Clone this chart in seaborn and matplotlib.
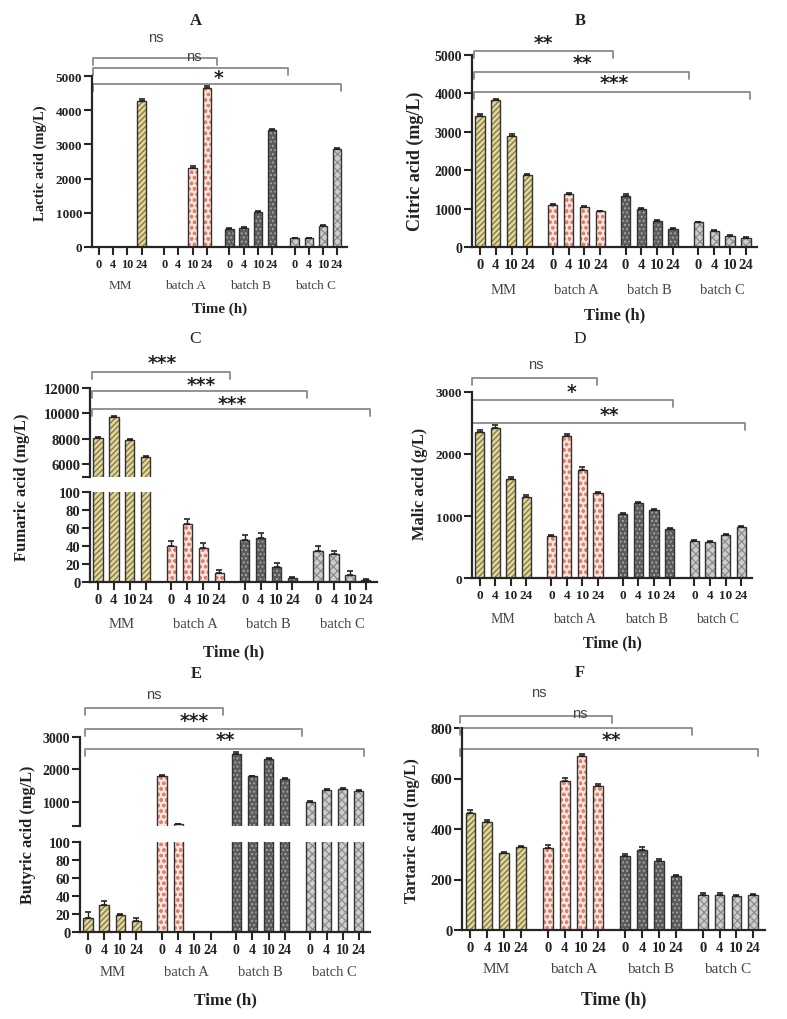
import numpy as np
import pandas as pd
import matplotlib
matplotlib.use('Agg')
import matplotlib.pyplot as plt
import matplotlib.transforms as mtransforms
import seaborn as sns

W, H = 787, 1020

times = ['0', '4', '10', '24']
groups = ['MM', 'batch A', 'batch B', 'batch C']

# values, order: MM 0/4/10/24, batch A ..., batch B ..., batch C ...
lactic = [0, 0, 0, 4270, 0, 0, 2310, 4660, 530, 570, 1020, 3420, 260, 250, 610, 2860]
lactic_err = [0, 0, 0, 60, 0, 0, 50, 40, 20, 20, 30, 40, 15, 15, 20, 30]

citric = [3420, 3820, 2900, 1880, 1100, 1380, 1050, 930, 1340, 980, 690, 470, 640, 420, 290, 240]
citric_err = [50, 40, 40, 25, 25, 25, 25, 20, 30, 25, 20, 20, 20, 15, 15, 15]

fumaric = [8050, 9700, 7900, 6600, 40, 65, 38, 10, 47, 49, 17, 4, 35, 31, 8, 2]
fumaric_err = [120, 60, 80, 60, 6, 5, 5, 3, 5, 5, 4, 2, 5, 4, 4, 1]

malic = [2350, 2420, 1600, 1310, 680, 2290, 1750, 1370, 1030, 1210, 1090, 790, 590, 580, 700, 820]
malic_err = [40, 40, 30, 25, 15, 40, 35, 25, 15, 20, 15, 15, 15, 15, 15, 15]

butyric = [16, 30, 19, 12, 1790, 300, 0, 0, 2480, 1780, 2320, 1710, 990, 1370, 1400, 1340]
butyric_err = [6, 5, 1, 4, 40, 20, 0, 0, 50, 30, 40, 25, 25, 25, 25, 25]

tartaric = [465, 428, 305, 328, 325, 592, 690, 572, 295, 318, 275, 215, 140, 140, 133, 138]
tartaric_err = [10, 8, 5, 4, 10, 10, 8, 8, 6, 10, 8, 4, 8, 6, 4, 5]

sig_A = ['ns', 'ns', '*']
sig_B = ['**', '**', '***']
sig_C = ['***', '***', '***']
sig_D = ['ns', '*', '**']
sig_E = ['ns', '***', '**']
sig_F = ['ns', 'ns', '**']

sns.set_style('ticks')
plt.rcParams['font.family'] = ['Liberation Serif', 'DejaVu Serif']
plt.rcParams['hatch.linewidth'] = 0.9
plt.rcParams['axes.linewidth'] = 1.6

fig = plt.figure(figsize=(W / 100, H / 100), dpi=100)

pitch = 4.6
pos = np.array([g * pitch + i for g in range(4) for i in range(4)])
grp = np.repeat(groups, 4)
centers = [g * pitch + 1.5 for g in range(4)]

face = {'MM': '#e6dc9c', 'batch A': '#fbe3da', 'batch B': '#5c5c5c', 'batch C': '#cdcdcd'}
hcol = {'MM': '#86742a', 'batch A': '#e2806b', 'batch B': '#a8a8a8', 'batch C': '#8c8c8c'}
hatches = {'MM': '//////', 'batch A': 'ooo', 'batch B': '....', 'batch C': 'xxxx'}


def px_axes(x0, x1, y0, y1):
    return fig.add_axes([x0 / W, 1 - y1 / H, (x1 - x0) / W, (y1 - y0) / H])


def draw_bars(ax, values, errs):
    df = pd.DataFrame({'pos': pos, 'val': values, 'group': grp})
    sns.barplot(data=df, x='pos', y='val', hue='group', palette=face, native_scale=True,
                dodge=False, width=0.58, legend=False, errorbar=None, linewidth=0, ax=ax)
    for p in ax.patches:
        c = p.get_x() + p.get_width() / 2
        g = grp[np.argmin(np.abs(pos - c))]
        p.set_edgecolor(hcol[g])
        p.set_linewidth(0)
        p.set_hatch(hatches[g])
    sns.barplot(data=df, x='pos', y='val', native_scale=True, width=0.58, fill=False,
                color='#333333', linewidth=1.0, errorbar=None, ax=ax)
    ax.errorbar(pos, values, yerr=[np.zeros(len(pos)), errs], fmt='none', ecolor='#222222',
                elinewidth=1.0, capsize=2.3, capthick=1.2)
    ax.set_xlabel('')
    ax.set_ylabel('')
    ax.set_xlim(-0.5, 17.5)


def style(ax, ylim, yticks, ylabels, yfs, xfs=None):
    ax.set_ylim(ylim)
    ax.set_yticks(yticks)
    ax.set_yticklabels(ylabels, fontweight='bold', fontsize=yfs, color='#222222')
    ax.tick_params(axis='y', length=5.5, width=1.5, pad=1.5)
    sns.despine(ax=ax, bottom=xfs is None)
    if xfs is None:
        ax.set_xticks([])
    else:
        ax.set_xticks(pos)
        ax.set_xticklabels(times * 4, fontweight='bold', fontsize=xfs, color='#222222')
        ax.tick_params(axis='x', length=5.5, width=1.5, pad=2.5)


def bracket_set(ax, labels, ends, ys, lxs, lys, start=-0.4):
    tr = mtransforms.blended_transform_factory(ax.transData, fig.transFigure)
    for lab, x1, y, lx, ly in zip(labels, ends, ys, lxs, lys):
        ax.plot([start, start, x1, x1], [1 - (y + 7) / H, 1 - y / H, 1 - y / H, 1 - (y + 7) / H],
                transform=tr, color='#8a8a8a', lw=1.3, clip_on=False)
        if lab == 'ns':
            ax.text(lx, 1 - ly / H, lab, transform=tr, ha='center', va='center',
                    fontsize=10.5, family='Liberation Sans', color='#444444')
        else:
            ax.text(lx, 1 - (ly + 4) / H, lab, transform=tr, ha='center', va='center',
                    fontsize=13.5, family='DejaVu Sans', fontweight='bold', color='#222222')


def group_text(ax, ypx, fs, time_y, time_fs):
    tr = mtransforms.blended_transform_factory(ax.transData, fig.transFigure)
    for c, g in zip(centers, groups):
        ax.text(c, 1 - ypx / H, g, transform=tr, ha='center', va='center', fontsize=fs, color='#444444')
    ax.text(8.5, 1 - time_y / H, 'Time (h)', transform=tr, ha='center', va='center',
            fontsize=time_fs, fontweight='bold', color='#222222')


def label(x, y, s, fs, weight='bold', rot=0):
    fig.text(x / W, 1 - y / H, s, ha='center', va='center', fontsize=fs, fontweight=weight,
             rotation=rot, color='#222222')


# A
ax = px_axes(92, 347, 77, 248)
draw_bars(ax, lactic, lactic_err)
style(ax, (0, 5000), [0, 1000, 2000, 3000, 4000, 5000], ['0', '1000', '2000', '3000', '4000', '5000'], 9.5, 8.8)
bracket_set(ax, sig_A, [8.3, 13.3, 17.1], [59, 69, 85], [4.0, 6.7, 8.4], [38, 57, 75])
group_text(ax, 286, 9.5, 309, 10.8)
label(40, 163, 'Lactic acid (mg/L)', 10.5, rot=90)
label(196, 21, 'A', 12)

# B
ax = px_axes(472, 757, 56, 248)
draw_bars(ax, citric, citric_err)
style(ax, (0, 5000), [0, 1000, 2000, 3000, 4000, 5000], ['0', '1000', '2000', '3000', '4000', '5000'], 10, 10.5)
bracket_set(ax, sig_B, [8.4, 13.2, 17.05], [52, 73, 93], [4.0, 6.5, 8.5], [39, 60, 80])
group_text(ax, 290, 10.5, 315, 12)
label(415, 161, 'Citric acid (mg/L)', 13, rot=90)
label(580, 21, 'B', 12)

# C (broken axis)
ax_u = px_axes(90, 377, 389, 478)
draw_bars(ax_u, fumaric, fumaric_err)
style(ax_u, (5000, 12000), [5000, 6000, 8000, 10000, 12000], ['', '6000', '8000', '10000', '12000'], 10.5)
ax = px_axes(90, 377, 493, 583)
draw_bars(ax, fumaric, fumaric_err)
style(ax, (0, 100), [0, 20, 40, 60, 80, 100], ['0', '20', '40', '60', '80', '100'], 10.5, 10.5)
bracket_set(ax, sig_C, [8.25, 13.1, 17.05], [373, 392, 410], [4.0, 6.45, 8.4], [359, 381, 401])
group_text(ax, 625, 10.5, 652, 12)
label(22, 487, 'Fumaric acid (mg/L)', 12, rot=90)
label(195, 339, 'C', 12.5, weight='normal')

# D
ax = px_axes(472, 752, 393, 579)
draw_bars(ax, malic, malic_err)
style(ax, (0, 3000), [0, 1000, 2000, 3000], ['0', '1000', '2000', '3000'], 9.5, 9.5)
bracket_set(ax, sig_D, [7.55, 12.4, 17.05], [379, 401, 424], [3.6, 5.9, 8.3], [365, 389, 412], start=-0.5)
group_text(ax, 620, 10, 643, 11.5)
label(420, 484, 'Malic acid (g/L)', 11.8, rot=90)
label(580, 339, 'D', 12.5, weight='normal')

# E (broken axis)
ax_u = px_axes(80, 370, 738, 827)
draw_bars(ax_u, butyric, butyric_err)
style(ax_u, (250, 3000), [250, 1000, 2000, 3000], ['', '1000', '2000', '3000'], 10)
ax = px_axes(80, 370, 843, 933)
draw_bars(ax, butyric, butyric_err)
style(ax, (0, 100), [0, 20, 40, 60, 80, 100], ['0', '20', '40', '60', '80', '100'], 10.5, 10)
bracket_set(ax, sig_E, [8.4, 13.3, 17.1], [709, 730, 750], [4.1, 6.6, 8.5], [695, 717, 737], start=-0.2)
group_text(ax, 973, 10.5, 1000, 12.3)
label(28, 835, 'Butyric acid (mg/L)', 11.8, rot=90)
label(196, 674, 'E', 12)

# F
ax = px_axes(462, 765, 729, 931)
draw_bars(ax, tartaric, tartaric_err)
style(ax, (0, 800), [0, 200, 400, 600, 800], ['0', '200', '400', '600', '800'], 10.5, 10.5)
bracket_set(ax, sig_F, [8.4, 13.15, 17.08], [717, 729, 750], [4.05, 6.5, 8.35], [693, 714, 737], start=-0.6)
group_text(ax, 970, 11, 1000, 12.8)
label(412, 831, 'Tartaric acid (mg/L)', 12, rot=90)
label(580, 673, 'F', 12)

fig.savefig('out.png', dpi=100)
